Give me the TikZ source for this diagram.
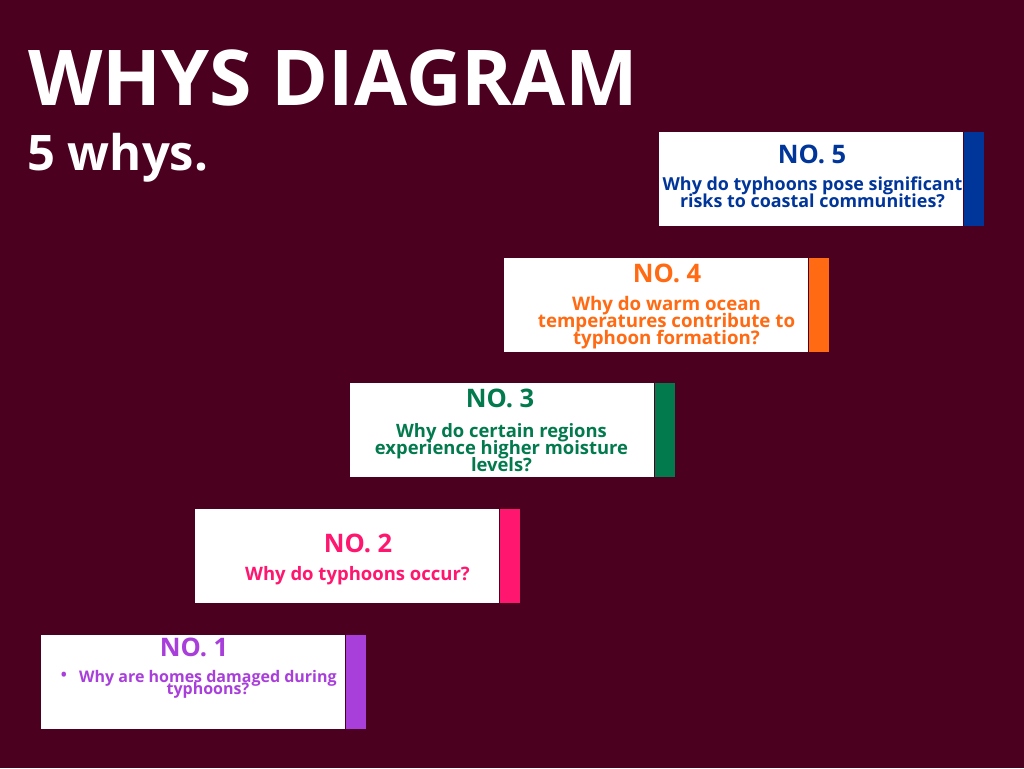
\documentclass[tikz,border=0pt]{standalone}
\usepackage{fontspec}
\setmainfont{Open Sans}
\definecolor{bgmaroon}{HTML}{4A001E}
\definecolor{cblue}{HTML}{00359A}
\definecolor{corange}{HTML}{FF6A13}
\definecolor{cgreen}{HTML}{027A4E}
\definecolor{cpink}{HTML}{FF166E}
\definecolor{cpurple}{HTML}{A93FDB}
% fixed line pitch, even when ascenders and descenders touch
\newcommand{\tightlines}{\lineskiplimit=-50pt\relax\lineskip=0pt\relax}
\tikzset{
  card/.style={fill=white, minimum width=304, minimum height=94, inner sep=0, anchor=north west},
  tab/.style={minimum width=20.5, minimum height=94, inner sep=0, anchor=north west},
  hdr/.style={inner sep=0, anchor=base, font=\fontsize{25.5}{25.5}\selectfont\bfseries},
  % multi-line text: the base anchor sits on the last line's baseline
  question/.style={inner sep=0, anchor=base, align=center,
    font={\fontsize{#1}{17}\selectfont\bfseries\tightlines}},
}
\begin{document}
\begin{tikzpicture}[x=1pt, y=-1pt]
\fill[bgmaroon] (0,0) rectangle (1024,768);
\useasboundingbox (0,0) rectangle (1024,768);

% heading
\node[inner sep=0, anchor=base west, text=white, font=\fontsize{77}{77}\selectfont\bfseries] (title) at (28,105) {WHYS DIAGRAM};
\node[inner sep=0, anchor=base west, text=white, font=\fontsize{49}{49}\selectfont\bfseries] (subtitle) at (27,170) {5 whys.};

% cards with coloured tabs, stepping up to the right
\node[card] (card5) at (659,132) {};
\node[tab, fill=cblue] (tab5) at (card5.north east) {};
\node[card] (card4) at (504,258) {};
\node[tab, fill=corange] (tab4) at (card4.north east) {};
\node[card] (card3) at (350,383) {};
\node[tab, fill=cgreen] (tab3) at (card3.north east) {};
\node[card] (card2) at (195,509) {};
\node[tab, fill=cpink] (tab2) at (card2.north east) {};
\node[card] (card1) at (41,635) {};
\node[tab, fill=cpurple] (tab1) at (card1.north east) {};

% card texts
\node[hdr, text=cblue] (h5) at (812,163) {NO. 5};
\node[question=17.9, text=cblue] (q5) at (812.5,207) {Why do typhoons pose significant\\risks to coastal communities?};

\node[hdr, text=corange] (h4) at (667,282) {NO. 4};
\node[question=18.7, text=corange] (q4) at (666.5,344) {Why do warm ocean\\temperatures contribute to\\typhoon formation?};

\node[hdr, text=cgreen] (h3) at (500,407) {NO. 3};
\node[question=18.4, text=cgreen] (q3) at (501.5,471) {Why do certain regions\\experience higher moisture\\levels?};

\node[hdr, text=cpink] (h2) at (358,552) {NO. 2};
\node[question=18.5, text=cpink] (q2) at (357.5,580.5) {Why do typhoons occur?};

\node[hdr, text=cpurple] (h1) at (194,656) {NO. 1};
\node[inner sep=0, anchor=center, text=cpurple, font=\fontsize{16}{16}\selectfont\bfseries] (b1) at (64,676.5) {\textbullet};
\node[question=16, anchor=base west, text=cpurple,
  font={\fontsize{16}{12.5}\selectfont\bfseries\tightlines}] (q1) at (79,694.5) {Why are homes damaged during\\typhoons?};
\end{tikzpicture}
\end{document}
